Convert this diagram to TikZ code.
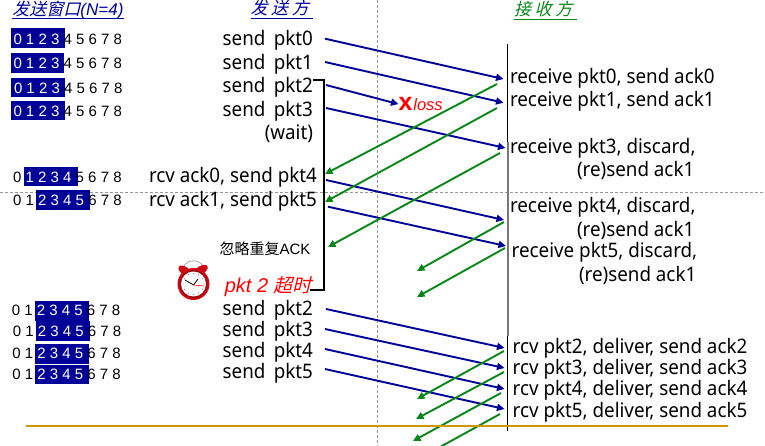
\documentclass[tikz,border=0pt]{standalone}
\usepackage{fontspec}
\setmainfont[FakeStretch=0.94]{Noto Sans}
\newfontfamily\arialfont{Liberation Sans}
\newfontfamily\cjkfont[FakeSlant=0.25]{Noto Sans CJK SC}
\newfontfamily\cjkhead[FakeSlant=0.25,LetterSpace=22]{Noto Sans CJK SC}
\newfontfamily\cjkplain{Noto Sans CJK SC}
\usetikzlibrary{arrows.meta,positioning}
\definecolor{gbnblue}{RGB}{0,0,153}
\definecolor{gbngreen}{RGB}{8,134,24}
\definecolor{gbngold}{RGB}{204,153,0}
\definecolor{gbngray}{RGB}{150,150,150}
\definecolor{gbnclock}{RGB}{205,10,20}
\newcommand{\wn}[1]{\textcolor{white}{#1}}
\newcommand{\fsz}[1]{\fontsize{#1}{#1}\selectfont}

\begin{document}
\begin{tikzpicture}[
  x=1pt, y=-1pt,
  every node/.style={inner sep=0pt, outer sep=0pt},
  winbox/.style={fill=gbnblue, anchor=north west, minimum width=53.5pt, minimum height=19.5pt},
  wintxt/.style={anchor=west, font=\arialfont\fsz{15}},
  sendtxt/.style={anchor=base east, font=\fsz{20}},
  recvtxt/.style={anchor=base west, font=\fsz{20}},
  pktline/.style={-{Triangle[length=7.5pt,width=7pt]}, gbnblue, line width=1.9pt},
  ackline/.style={-{Triangle[length=7.5pt,width=7pt]}, gbngreen, line width=1.9pt},
  guide/.style={gbngray, densely dashed, line width=0.6pt},
  headtxt/.style={anchor=base west, font=\cjkhead\fsz{17}},
]
\useasboundingbox (0,0) rectangle (765,446);

% guides
\draw[guide] (0,192) -- (765,192);
\draw[guide] (377.7,0) -- (377.7,446);

% headers
\node[headtxt, gbnblue, font=\cjkfont\fsz{17}] (hwin) at (12.5,15.5) {发送窗口{\arialfont\itshape (N=4)}};
\node[headtxt, gbnblue] (hsend) at (250.5,14.5) {发送方};
\node[headtxt, gbngreen] (hrecv) at (514,15.5) {接收方};
\draw[gbnblue, line width=0.9pt] (12,18.5) -- (124,18.5);
\draw[gbnblue, line width=0.9pt] (hsend.west |- 0,18) -- (313,18);
\draw[gbngreen, line width=0.9pt] (hrecv.west |- 0,19.5) -- (577,19.5);

% send windows
\foreach \n/\bx/\by/\tx/\ty/\digits in {
  w0/11/28.5/13.5/39.7/{\wn{0 1 2 3} 4 5 6 7 8},
  w1/10.5/53.5/13.5/63.3/{\wn{0 1 2 3} 4 5 6 7 8},
  w2/11/78/14/88.3/{\wn{0 1 2 3} 4 5 6 7 8},
  w3/11/101/13.5/111/{\wn{0 1 2 3} 4 5 6 7 8},
  w4/24/167/13.2/177.7/{0 \wn{1 2 3 4} 5 6 7 8},
  w5/36/190.3/13.2/200.7/{0 1 \wn{2 3 4 5} 6 7 8},
  w6/35/301/11.8/310.7/{0 1 \wn{2 3 4 5} 6 7 8},
  w7/36/321.3/12.8/331/{0 1 \wn{2 3 4 5} 6 7 8},
  w8/35/344/12.3/353.5/{0 1 \wn{2 3 4 5} 6 7 8},
  w9/35/364.5/12.3/374.7/{0 1 \wn{2 3 4 5} 6 7 8}} {
  \node[winbox] (\n) at (\bx,\by) {};
  \node[wintxt] (\n txt) at (\tx,\ty) {\digits};
}

% sender side
\node[sendtxt] (s0) at (313,45.5) {send\hspace{0.42em}pkt0};
\node[sendtxt] (s1) at (313,69.5) {send\hspace{0.42em}pkt1};
\node[sendtxt] (s2) at (313,92.5) {send\hspace{0.42em}pkt2};
\node[sendtxt] (s3) at (313,116.5) {send\hspace{0.42em}pkt3};
\node[sendtxt] (swait) at (313,139.8) {(wait)};
\node[sendtxt] (s4) at (317,182.2) {rcv ack0, send pkt4};
\node[sendtxt] (s5) at (317,206.2) {rcv ack1, send pkt5};
\node[sendtxt, font=\arialfont\fsz{15}] (ign) at (310.5,254.5) {{\cjkplain 忽略重复}ACK};
\node[sendtxt, red, font=\arialfont\itshape\fsz{20}] (tmo) at (311.7,292.7) {pkt 2 {\cjkfont\fsz{19}超时}};
\node[sendtxt] (t2) at (313,315.5) {send\hspace{0.42em}pkt2};
\node[sendtxt] (t3) at (313,336.2) {send\hspace{0.42em}pkt3};
\node[sendtxt] (t4) at (313,357.2) {send\hspace{0.42em}pkt4};
\node[sendtxt] (t5) at (313,378.2) {send\hspace{0.42em}pkt5};

% alarm clock
\draw[gbngray!70, line width=1pt] (182,272) .. controls (183,257) and (204,257) .. (205,272);
\fill[gbnclock, rotate around={-35:(185,271)}] (185,271) ellipse (7.5pt and 4pt);
\fill[gbnclock, rotate around={30:(201,270)}] (201,270) ellipse (7.5pt and 4pt);
\fill[gbnclock] (193.5,284) circle (16pt);
\fill[gbnclock!75!black] (193.5,284) circle (14pt);
\fill[white] (193.5,284) circle (12.5pt);
\foreach \t in {0,30,...,330} {
  \fill[gbngray] (193.5,284) ++(\t:10.5pt) circle (0.7pt);
}
\draw[black, line width=0.8pt] (193.5,285) -- (185,280);
\draw[black, line width=0.8pt] (193.5,285) -- (198,279);
\draw[red, line width=0.6pt] (193.5,285) -- (204,286);

% bracket
\coordinate (brtop) at (313,80);
\coordinate (brend) at (310,290);
\draw[black, line width=1.6pt] (brtop) -| (323.7,150) |- (brend);

% receiver side
\draw[black, line width=0.8pt] (507.5,44) -- (507.5,431);
\draw[gbngray!80!black, line width=1.8pt] (508,142) -- (508,336);
\node[recvtxt] (r0) at (510,83.2) {receive pkt0, send ack0};
\node[recvtxt] (r1) at (510,106.5) {receive pkt1, send ack1};
\node[recvtxt] (r3) at (510,153.2) {receive pkt3, discard,};
\node[recvtxt] (r3b) at (577,176.2) {(re)send ack1};
\node[recvtxt] (r4) at (510,212.5) {receive pkt4, discard,};
\node[recvtxt] (r4b) at (577,236.5) {(re)send ack1};
\node[recvtxt] (r5) at (511.7,257.8) {receive pkt5, discard,};
\node[recvtxt] (r5b) at (579,281.5) {(re)send ack1};
\node[recvtxt] (d2) at (512.7,353.8) {rcv pkt2, deliver, send ack2};
\node[recvtxt] (d3) at (512.7,374.8) {rcv pkt3, deliver, send ack3};
\node[recvtxt] (d4) at (512.7,395.5) {rcv pkt4, deliver, send ack4};
\node[recvtxt] (d5) at (512.7,417.2) {rcv pkt5, deliver, send ack5};

% loss mark
\node[anchor=base west, red, font=\arialfont\bfseries\fsz{25}] (lossx) at (398.5,110.7) {x};
\node[red, font=\arialfont\itshape\fsz{16.5}, right=1pt of lossx.base east, anchor=base west] (loss) {loss};

% packets
\foreach \a/\sx/\sy/\ex/\ey in {
  0/325/38.7/503.5/79,
  1/325/62/503.5/102.7,
  3/326/108/505.5/148,
  4/326/180/504/220,
  5/328/206.7/506/246,
  6/326/309/504.5/348,
  7/325/329/504.5/368,
  8/325/349/504.5/389,
  9/325/369/504.5/409} {
  \coordinate (pa\a) at (\sx,\sy);
  \coordinate (pb\a) at (\ex,\ey);
  \draw[pktline] (pa\a) -- (pb\a);
}
\coordinate (pa2) at (326,85);
\draw[pktline] (pa2) -- (lossx.west);

% acks
\foreach \a/\sx/\sy/\ex/\ey in {
  0/497/84/325/174,
  1/497/108/325/202,
  2/500/153/328/247,
  3/504/222/417/271,
  4/505/248/417/297,
  5/504/351/417/399,
  6/504/372/416/419,
  7/501/393/413/441} {
  \coordinate (aa\a) at (\sx,\sy);
  \coordinate (ab\a) at (\ex,\ey);
  \draw[ackline] (aa\a) -- (ab\a);
}
\coordinate (aa8) at (500,414);
\coordinate (ab8) at (441,446.5);
\draw[gbngreen, line width=1.9pt] (aa8) -- (ab8);

% timeline
\draw[gbngold, line width=2pt] (26,425.7) -- (727.7,425.7);
\end{tikzpicture}
\end{document}
